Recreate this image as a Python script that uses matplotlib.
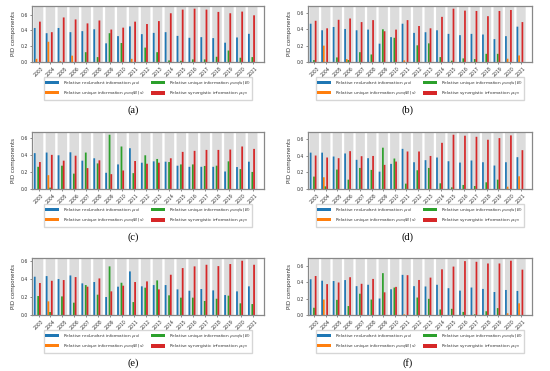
import matplotlib
matplotlib.use("Agg")
import matplotlib.pyplot as plt
import numpy as np

years = [str(y) for y in range(2003, 2022)]

# panel (a)
a_red = [0.43, 0.364, 0.43, 0.377, 0.39, 0.414, 0.236, 0.327, 0.45, 0.352, 0.368, 0.377, 0.33, 0.306, 0.314, 0.302, 0.244, 0.31, 0.356]
a_unqBs = [0.04, 0.256, 0.01, 0.08, 0, 0, 0, 0, 0.04, 0, 0, 0, 0, 0, 0, 0, 0, 0, 0]
a_unqsB = [0, 0, 0, 0, 0.124, 0.062, 0.364, 0.24, 0, 0.182, 0.124, 0.02, 0.015, 0.033, 0.033, 0.066, 0.145, 0.054, 0.062]
a_syn = [0.51, 0.377, 0.563, 0.538, 0.488, 0.525, 0.41, 0.434, 0.51, 0.48, 0.517, 0.616, 0.662, 0.674, 0.662, 0.633, 0.616, 0.637, 0.59]

# panel (b)
b_red = [0.468, 0.388, 0.428, 0.404, 0.388, 0.396, 0.224, 0.304, 0.468, 0.356, 0.364, 0.388, 0.344, 0.328, 0.344, 0.336, 0.28, 0.316, 0.432]
b_unqBs = [0, 0.2, 0, 0.036, 0, 0, 0, 0, 0.02, 0, 0, 0, 0, 0, 0, 0, 0, 0.04, 0.08]
b_unqsB = [0.024, 0, 0.056, 0.024, 0.12, 0.092, 0.40, 0.296, 0, 0.204, 0.228, 0.06, 0.016, 0.044, 0.036, 0.10, 0.10, 0, 0]
b_syn = [0.504, 0.412, 0.516, 0.532, 0.488, 0.512, 0.376, 0.396, 0.512, 0.44, 0.412, 0.552, 0.652, 0.628, 0.624, 0.56, 0.624, 0.636, 0.488]

# panel (c)
c_red = [0.42, 0.427, 0.395, 0.43, 0.332, 0.36, 0.19, 0.288, 0.478, 0.308, 0.324, 0.32, 0.273, 0.26, 0.26, 0.26, 0.205, 0.257, 0.32]
c_unqBs = [0, 0.162, 0, 0, 0, 0, 0, 0, 0, 0, 0, 0, 0, 0, 0, 0, 0, 0, 0]
c_unqsB = [0.26, 0.016, 0.273, 0.18, 0.427, 0.30, 0.636, 0.498, 0.186, 0.395, 0.352, 0.316, 0.288, 0.288, 0.27, 0.273, 0.324, 0.233, 0.20]
c_syn = [0.316, 0.40, 0.332, 0.39, 0.245, 0.336, 0.174, 0.217, 0.328, 0.296, 0.308, 0.36, 0.435, 0.447, 0.458, 0.458, 0.462, 0.498, 0.47]

# panel (d)
d_red = [0.44, 0.44, 0.393, 0.43, 0.353, 0.373, 0.21, 0.304, 0.486, 0.324, 0.349, 0.381, 0.336, 0.32, 0.345, 0.324, 0.284, 0.324, 0.385]
d_unqBs = [0, 0.142, 0, 0, 0, 0, 0, 0, 0, 0, 0, 0, 0, 0, 0, 0, 0, 0.028, 0.154]
d_unqsB = [0.15, 0.032, 0.235, 0.113, 0.255, 0.231, 0.50, 0.369, 0.065, 0.227, 0.255, 0.069, 0.02, 0.049, 0.036, 0.081, 0.113, 0, 0]
d_syn = [0.405, 0.381, 0.373, 0.458, 0.397, 0.40, 0.292, 0.332, 0.454, 0.454, 0.40, 0.559, 0.657, 0.645, 0.632, 0.596, 0.616, 0.649, 0.47]

# panel (e)
e_red = [0.426, 0.433, 0.40, 0.44, 0.352, 0.367, 0.20, 0.315, 0.485, 0.319, 0.333, 0.333, 0.285, 0.27, 0.289, 0.274, 0.222, 0.263, 0.319]
e_unqBs = [0, 0.152, 0, 0, 0, 0, 0, 0, 0, 0, 0, 0, 0, 0, 0, 0, 0, 0, 0]
e_unqsB = [0.211, 0.033, 0.207, 0.137, 0.333, 0.226, 0.541, 0.359, 0.144, 0.304, 0.385, 0.219, 0.193, 0.193, 0.156, 0.181, 0.215, 0.13, 0.122]
e_syn = [0.356, 0.381, 0.389, 0.422, 0.315, 0.407, 0.263, 0.326, 0.367, 0.374, 0.285, 0.448, 0.522, 0.541, 0.559, 0.544, 0.567, 0.604, 0.559]

# panel (f)
f_red = [0.44, 0.422, 0.418, 0.43, 0.355, 0.372, 0.203, 0.317, 0.494, 0.355, 0.351, 0.372, 0.33, 0.30, 0.338, 0.321, 0.283, 0.308, 0.296]
f_unqBs = [0, 0.19, 0, 0, 0, 0, 0, 0, 0.008, 0, 0, 0, 0, 0, 0, 0, 0, 0.021, 0.144]
f_unqsB = [0.089, 0, 0.186, 0.11, 0.262, 0.19, 0.515, 0.338, 0, 0.215, 0.199, 0.068, 0.076, 0.038, 0.008, 0.046, 0.085, 0, 0]
f_syn = [0.48, 0.38, 0.40, 0.465, 0.384, 0.444, 0.279, 0.346, 0.49, 0.431, 0.46, 0.562, 0.596, 0.663, 0.655, 0.634, 0.634, 0.668, 0.558]

panel_labels = ["(a)", "(b)", "(c)", "(d)", "(e)", "(f)"]
series_labels = [r"Relative redundant information $\rho_{red}$",
                 r"Relative unique information $\rho_{unq}(B\,|\,s)$",
                 r"Relative unique information $\rho_{unq}(s\,|\,B)$",
                 r"Relative synergistic information $\rho_{syn}$"]
colors = ["#1f77b4", "#ff7f0e", "#2ca02c", "#d62728"]

panels = [
    (a_red, a_unqBs, a_unqsB, a_syn),
    (b_red, b_unqBs, b_unqsB, b_syn),
    (c_red, c_unqBs, c_unqsB, c_syn),
    (d_red, d_unqBs, d_unqsB, d_syn),
    (e_red, e_unqBs, e_unqsB, e_syn),
    (f_red, f_unqBs, f_unqsB, f_syn),
]

W, H = 550, 371
fig = plt.figure(figsize=(5.5, 3.71), dpi=100)

col_x = [(32, 264), (308, 532)]
row_y = [(6, 62), (132, 189), (258, 315)]
label_x = [133, 408]

offsets = [-0.32, -0.175, -0.03, 0.115]
bw = 0.15
x = np.arange(len(years))

for k, data in enumerate(panels):
    r, c = divmod(k, 2)
    x0, x1 = col_x[c]
    y0, y1 = row_y[r]
    ax = fig.add_axes([x0 / W, 1 - y1 / H, (x1 - x0) / W, (y1 - y0) / H])
    top = max(max(s) for s in data) * 1.05
    ax.bar(x, [top] * len(x), width=0.8, color="#dcdcdc", zorder=0,
           linewidth=0, snap=False)
    handles = []
    for s, off, col, lab in zip(data, offsets, colors, series_labels):
        h = ax.bar(x + off, s, width=bw, color=col, label=lab, zorder=2,
                   linewidth=0, snap=False)
        handles.append(h)
    ax.set_ylim(0, top)
    ax.set_xlim(-0.55, len(x) - 0.05)
    ax.set_yticks([0.0, 0.2, 0.4, 0.6])
    ax.set_xticks(x)
    ax.set_xticklabels(years, rotation=45, ha="center")
    ax.tick_params(labelsize=3.3, length=1.5, width=0.4, pad=1.5, colors="#333333")
    ax.set_ylabel("PID components", fontsize=4, labelpad=3, color="#333333")
    for sp in ax.spines.values():
        sp.set_color("#888888")
        sp.set_linewidth(0.9)
    cx = (x0 + x1) / 2 / W
    fig.legend(handles=handles, loc="upper center", ncol=2,
               bbox_to_anchor=(cx, 1 - (y1 + 13) / H),
               fontsize=3.1, frameon=True, handlelength=3.2, handleheight=0.9,
               columnspacing=1.6, borderpad=0.35, labelspacing=0.4,
               handletextpad=0.8, edgecolor="#cccccc", fancybox=False,
               labelcolor="#333333")
    fig.text(label_x[c] / W, 1 - (y1 + 48) / H, panel_labels[k],
             ha="center", va="center", fontsize=7.5,
             family=["Liberation Serif", "DejaVu Serif"])

fig.savefig("out.png", dpi=100)
